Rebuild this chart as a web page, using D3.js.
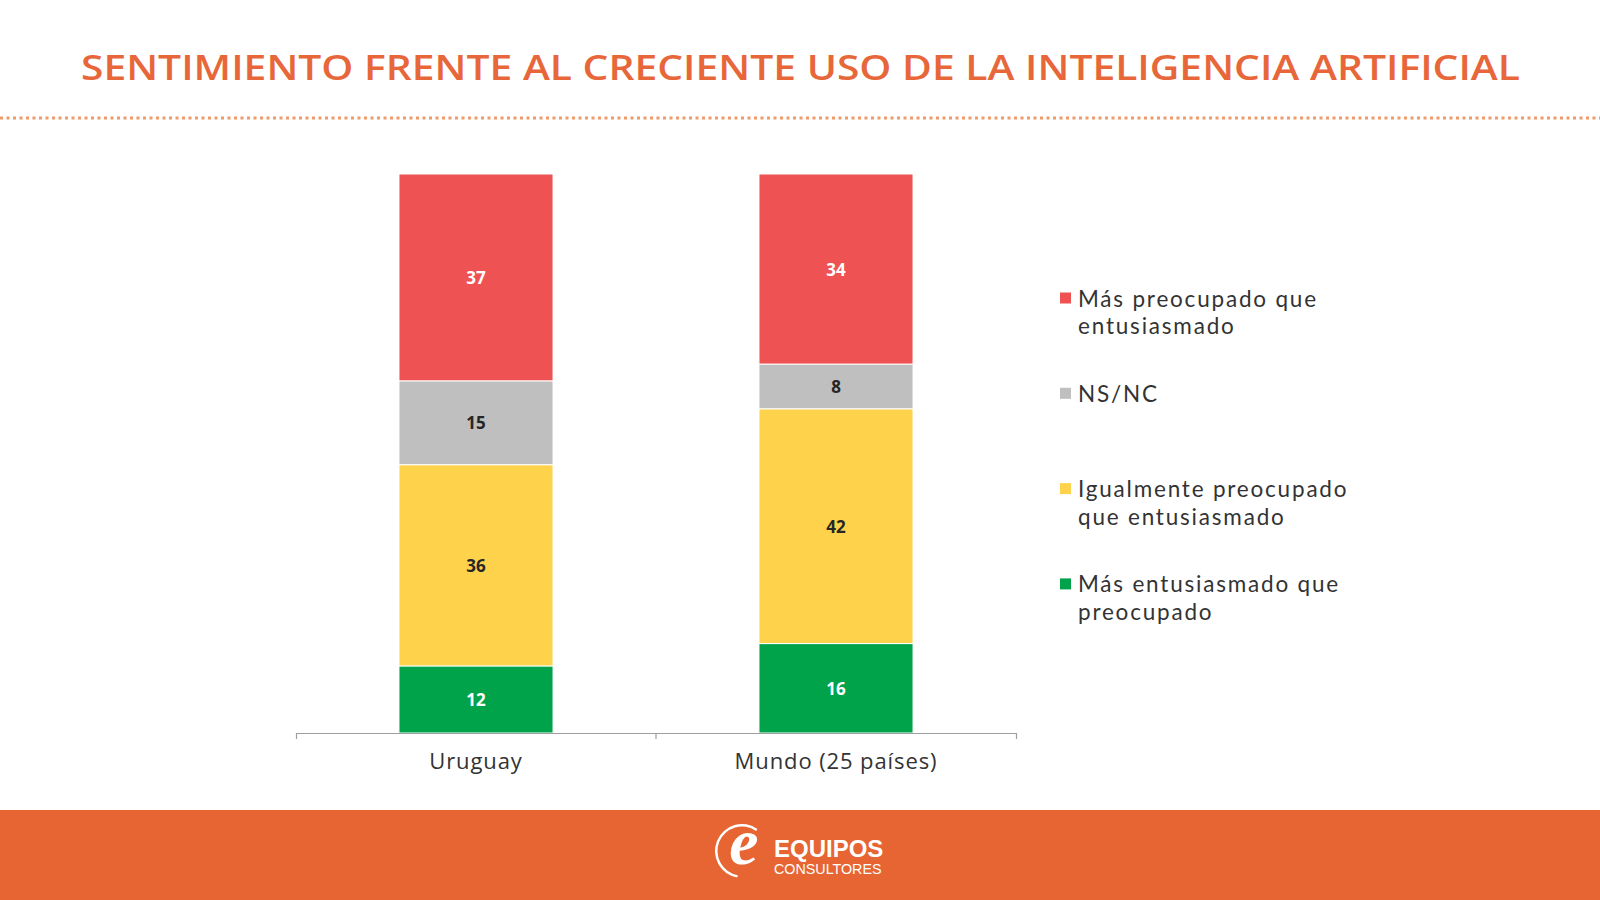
<!DOCTYPE html>
<html>
<head>
<meta charset="utf-8">
<script src="https://cdn.jsdelivr.net/npm/d3@7"></script>
<style>
  html, body { margin: 0; padding: 0; background: #ffffff; }
  svg { display: block; }
</style>
</head>
<body>
<svg id="chart" width="1600" height="900"></svg>
<script>
// ---------- DATA ----------
const titleText = "SENTIMIENTO FRENTE AL CRECIENTE USO DE LA INTELIGENCIA ARTIFICIAL";
const categories = ["Uruguay", "Mundo (25 países)"];
// series (bottom -> top in the stack)
const seriesKeys = ["entusiasmado", "igualmente", "nsnc", "preocupado"];
const masEntusiasmado = [12, 16];
const igualmente = [36, 42];
const nsnc = [15, 8];
const masPreocupado = [37, 34];
// legend (top -> bottom)
const legendKeys = ["preocupado", "nsnc", "igualmente", "entusiasmado"];
const legendLabels = [
  ["Más preocupado que", "entusiasmado"],
  ["NS/NC"],
  ["Igualmente preocupado", "que entusiasmado"],
  ["Más entusiasmado que", "preocupado"]
];
const yDomainMax = 100;

// ---------- STYLE ----------
const colors = {
  preocupado: "#EE5253",
  nsnc: "#BFBFBF",
  igualmente: "#FED24B",
  entusiasmado: "#00A24A"
};
const labelColors = {
  preocupado: "#ffffff",
  nsnc: "#262626",
  igualmente: "#262626",
  entusiasmado: "#ffffff"
};
const orange = "#E8673A";
const font = "'Open Sans', 'Noto Sans', sans-serif";
const legendFont = "Lato, 'Open Sans', sans-serif";

const rows = categories.map((c, i) => ({
  category: c,
  entusiasmado: masEntusiasmado[i],
  igualmente: igualmente[i],
  nsnc: nsnc[i],
  preocupado: masPreocupado[i]
}));

const svg = d3.select("#chart");
svg.append("rect").attr("width", 1600).attr("height", 900).attr("fill", "#ffffff");

// ---------- TITLE ----------
svg.append("text")
  .attr("x", 800.5).attr("y", 80)
  .attr("text-anchor", "middle")
  .attr("font-family", font)
  .attr("font-weight", 600)
  .attr("font-size", 35)
  .attr("fill", orange)
  .attr("textLength", 1439)
  .attr("lengthAdjust", "spacingAndGlyphs")
  .text(titleText);

svg.append("line")
  .attr("x1", 0).attr("x2", 1600)
  .attr("y1", 118).attr("y2", 118)
  .attr("stroke", "#EF9A6A")
  .attr("stroke-width", 3)
  .attr("stroke-dasharray", "3,3.5");

// ---------- SCALES ----------
const x = d3.scaleBand()
  .domain(categories)
  .range([296, 1016])
  .paddingInner(0.572)
  .paddingOuter(0.286);

const y = d3.scaleLinear()
  .domain([0, yDomainMax])
  .range([733, 174]);

const stack = d3.stack().keys(seriesKeys);
const stacked = stack(rows);

// ---------- BARS ----------
const layers = svg.append("g").selectAll("g")
  .data(stacked)
  .join("g")
  .attr("fill", d => colors[d.key]);

layers.selectAll("rect")
  .data(d => d.map(p => ({ key: d.key, p })))
  .join("rect")
  .attr("x", d => x(d.p.data.category))
  .attr("width", x.bandwidth())
  .attr("y", d => y(d.p[1]))
  .attr("height", d => y(d.p[0]) - y(d.p[1]))
  .attr("stroke", "#ffffff")
  .attr("stroke-width", 1);

layers.selectAll("text")
  .data(d => d.map(p => ({ key: d.key, p })))
  .join("text")
  .attr("x", d => x(d.p.data.category) + x.bandwidth() / 2)
  .attr("y", d => (y(d.p[0]) + y(d.p[1])) / 2)
  .attr("text-anchor", "middle")
  .attr("dominant-baseline", "central")
  .attr("font-family", font)
  .attr("font-weight", 700)
  .attr("font-size", 17)
  .attr("fill", d => labelColors[d.key])
  .text(d => d.p[1] - d.p[0]);

// ---------- AXIS ----------
const axis = d3.axisBottom(x)
  .tickSizeInner(0)
  .tickSizeOuter(6)
  .tickPadding(20);

const gx = svg.append("g")
  .attr("transform", `translate(0,${y(0)})`)
  .call(axis);
gx.select(".domain").attr("stroke", "#9f9f9f").attr("stroke-width", 1.2);
gx.selectAll(".tick text")
  .attr("font-family", font)
  .attr("font-size", 22)
  .attr("letter-spacing", 0.9)
  .attr("fill", "#333333");
// boundary tick between the two categories
gx.append("line")
  .attr("x1", x.range()[0] + x.step())
  .attr("x2", x.range()[0] + x.step())
  .attr("y1", 0).attr("y2", 6)
  .attr("stroke", "#9f9f9f").attr("stroke-width", 1.2);

// ---------- LEGEND ----------
const legend = svg.append("g").attr("transform", "translate(1060,298)");
const items = legend.selectAll("g")
  .data(legendKeys)
  .join("g")
  .attr("transform", (d, i) => `translate(0,${i * 95.3})`);

items.append("rect")
  .attr("x", 0).attr("y", -5.5)
  .attr("width", 11).attr("height", 11)
  .attr("fill", d => colors[d]);

items.each(function(d, i) {
  d3.select(this).selectAll("text")
    .data(legendLabels[i])
    .join("text")
    .attr("x", 18)
    .attr("y", (t, j) => j * 27.5)
    .attr("dominant-baseline", "central")
    .attr("font-family", legendFont)
    .attr("font-size", 22.5)
    .attr("letter-spacing", 1.8)
    .attr("fill", "#333333")
    .text(t => t);
});

// ---------- FOOTER ----------
svg.append("rect")
  .attr("x", 0).attr("y", 810)
  .attr("width", 1600).attr("height", 90)
  .attr("fill", "#E66533");

const logo = svg.append("g").attr("transform", "translate(742,851)");
logo.append("path")
  .attr("d", d3.arc()
    .innerRadius(24.5).outerRadius(27)
    .startAngle(190 * Math.PI / 180)
    .endAngle(395 * Math.PI / 180)())
  .attr("fill", "#ffffff");
logo.append("text")
  .attr("x", 2).attr("y", 13)
  .attr("text-anchor", "middle")
  .attr("font-family", "'Liberation Serif', 'DejaVu Serif', serif")
  .attr("font-style", "italic")
  .attr("font-weight", 700)
  .attr("font-size", 66)
  .attr("fill", "#ffffff")
  .text("e");

svg.append("text")
  .attr("x", 774).attr("y", 857)
  .attr("font-family", "'Liberation Sans', Arial, sans-serif")
  .attr("font-weight", 700)
  .attr("font-size", 24)
  .attr("fill", "#ffffff")
  .text("EQUIPOS");
svg.append("text")
  .attr("x", 774).attr("y", 874)
  .attr("font-family", "'Liberation Sans', Arial, sans-serif")
  .attr("font-size", 14.3)
  .attr("fill", "#ffffff")
  .text("CONSULTORES");
</script>
</body>
</html>
